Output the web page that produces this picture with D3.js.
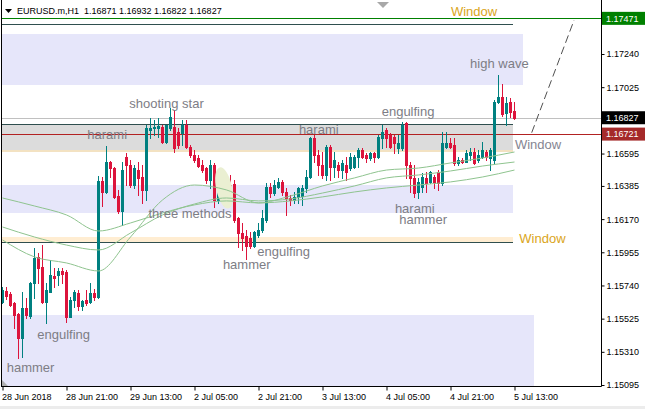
<!DOCTYPE html>
<html><head><meta charset="utf-8">
<script src="https://cdn.jsdelivr.net/npm/d3@7"></script>
<style>html,body{margin:0;padding:0;background:#fff;overflow:hidden}</style>
</head><body>
<svg id="c" width="645" height="409"></svg>
<script>
// ---------- DATA ----------
const opens = [1.15633,1.15704,1.15685,1.15626,1.15555,1.15400,1.15595,1.15542,1.15756,1.15925,
1.15860,1.15633,1.15698,1.15802,1.15808,1.15834,1.15827,1.15536,1.15646,1.15691,
1.15607,1.15646,1.15633,1.15691,1.15665,1.16417,1.16346,1.16540,1.16501,1.16320,
1.16223,1.16573,1.16521,1.16391,1.16488,1.16443,1.16359,1.16748,1.16761,1.16761,
1.16767,1.16670,1.16761,1.16767,1.16735,1.16728,1.16780,1.16637,1.16586,1.16566,
1.16521,1.16501,1.16424,1.16521,1.16294,1.16437,1.16424,1.16391,1.16398,1.16177,
1.16080,1.16061,1.16048,1.15996,1.16067,1.16100,1.16164,1.16378,1.16339,1.16378,
1.16411,1.16346,1.16307,1.16294,1.16314,1.16320,1.16372,1.16443,1.16696,1.16586,
1.16521,1.16456,1.16637,1.16508,1.16521,1.16488,1.16521,1.16501,1.16508,1.16573,
1.16618,1.16586,1.16566,1.16599,1.16573,1.16696,1.16748,1.16715,1.16702,1.16631,
1.16631,1.16793,1.16521,1.16437,1.16346,1.16378,1.16437,1.16411,1.16443,1.16475,
1.16404,1.16637,1.16663,1.16650,1.16534,1.16553,1.16540,1.16586,1.16605,1.16553,
1.16573,1.16605,1.16566,1.16553,1.16929,1.16961,1.16858,1.16929,1.16871];
const highs = [1.15730,1.15730,1.15698,1.15633,1.15562,1.15698,1.15659,1.15763,1.15983,1.15951,
1.16002,1.15756,1.15905,1.15853,1.15853,1.15853,1.15840,1.15665,1.15711,1.15711,
1.15646,1.15711,1.15756,1.15717,1.16450,1.16443,1.16644,1.16547,1.16508,1.16359,
1.16540,1.16599,1.16553,1.16521,1.16540,1.16521,1.16780,1.16825,1.16812,1.16825,
1.16780,1.16780,1.16890,1.16877,1.16761,1.16812,1.16812,1.16650,1.16618,1.16586,
1.16553,1.16508,1.16553,1.16534,1.16475,1.16475,1.16443,1.16456,1.16424,1.16184,
1.16145,1.16100,1.16087,1.16093,1.16145,1.16229,1.16404,1.16404,1.16424,1.16437,
1.16424,1.16372,1.16326,1.16346,1.16378,1.16391,1.16488,1.16702,1.16715,1.16618,
1.16605,1.16650,1.16650,1.16605,1.16540,1.16553,1.16573,1.16599,1.16586,1.16631,
1.16631,1.16599,1.16605,1.16605,1.16715,1.16780,1.16761,1.16728,1.16715,1.16715,
1.16799,1.16799,1.16540,1.16521,1.16437,1.16469,1.16475,1.16482,1.16456,1.16488,
1.16735,1.16735,1.16696,1.16696,1.16573,1.16566,1.16618,1.16631,1.16631,1.16618,
1.16670,1.16618,1.16631,1.16942,1.17104,1.17046,1.16961,1.16955,1.16932];
const lows = [1.15626,1.15652,1.15607,1.15465,1.15271,1.15277,1.15529,1.15529,1.15659,1.15756,
1.15626,1.15497,1.15698,1.15730,1.15743,1.15756,1.15503,1.15536,1.15601,1.15581,
1.15581,1.15614,1.15626,1.15646,1.15659,1.16255,1.16339,1.16443,1.16307,1.16210,
1.16132,1.16391,1.16378,1.16372,1.16326,1.16275,1.16294,1.16696,1.16715,1.16702,
1.16663,1.16663,1.16748,1.16605,1.16631,1.16650,1.16631,1.16573,1.16540,1.16508,
1.16475,1.16404,1.16372,1.16249,1.16275,1.16326,1.16359,1.16294,1.16151,1.15990,
1.15970,1.15912,1.15983,1.15990,1.16054,1.16087,1.16151,1.16314,1.16326,1.16372,
1.16326,1.16197,1.16262,1.16275,1.16275,1.16262,1.16346,1.16437,1.16540,1.16456,
1.16437,1.16424,1.16424,1.16443,1.16443,1.16437,1.16424,1.16488,1.16501,1.16508,
1.16566,1.16540,1.16553,1.16540,1.16566,1.16631,1.16637,1.16631,1.16599,1.16599,
1.16618,1.16437,1.16346,1.16314,1.16307,1.16346,1.16346,1.16404,1.16372,1.16359,
1.16391,1.16631,1.16631,1.16521,1.16521,1.16534,1.16540,1.16553,1.16527,1.16540,
1.16566,1.16553,1.16488,1.16534,1.16923,1.16838,1.16780,1.16832,1.16822];
const closes = [1.15711,1.15672,1.15614,1.15549,1.15400,1.15595,1.15549,1.15756,1.15918,1.15853,
1.15633,1.15711,1.15808,1.15789,1.15834,1.15815,1.15536,1.15646,1.15698,1.15607,
1.15640,1.15626,1.15691,1.15665,1.16417,1.16346,1.16540,1.16501,1.16314,1.16223,
1.16488,1.16521,1.16391,1.16501,1.16437,1.16359,1.16761,1.16761,1.16767,1.16774,
1.16670,1.16780,1.16832,1.16631,1.16650,1.16780,1.16637,1.16586,1.16553,1.16514,
1.16488,1.16424,1.16521,1.16294,1.16424,1.16391,1.16404,1.16326,1.16164,1.16080,
1.16048,1.15996,1.15996,1.16087,1.16100,1.16177,1.16378,1.16339,1.16391,1.16411,
1.16346,1.16307,1.16294,1.16314,1.16372,1.16372,1.16443,1.16696,1.16586,1.16521,
1.16456,1.16637,1.16508,1.16553,1.16488,1.16534,1.16475,1.16573,1.16573,1.16618,
1.16573,1.16566,1.16599,1.16573,1.16702,1.16735,1.16696,1.16637,1.16663,1.16663,
1.16780,1.16521,1.16437,1.16339,1.16411,1.16443,1.16404,1.16475,1.16411,1.16404,
1.16663,1.16663,1.16637,1.16534,1.16553,1.16540,1.16599,1.16605,1.16534,1.16586,
1.16618,1.16573,1.16618,1.16929,1.16961,1.16851,1.16923,1.16864,1.16827];

// moving averages, read at every 8th bar
const maBars = [0,8,16,24,32,40,48,56,64,72,80,88,96,104,112,120,128];
const maSlow = [1.16307,1.16255,1.16197,1.16093,1.16145,1.16210,1.16262,1.16288,1.16275,1.16288,1.16314,1.16346,1.16372,1.16391,1.16411,1.16443,1.16488];
const maMid  = [1.16119,1.16054,1.16002,1.15970,1.16080,1.16197,1.16268,1.16307,1.16288,1.16301,1.16339,1.16385,1.16437,1.16456,1.16482,1.16514,1.16540];
const maFast = [1.16035,1.15925,1.15886,1.15834,1.16054,1.16294,1.16391,1.16359,1.16275,1.16320,1.16385,1.16437,1.16488,1.16501,1.16534,1.16566,1.16605];

const yTickValues = [1.17240,1.17025,1.16595,1.16385,1.16170,1.15955,1.15740,1.15525,1.15310,1.15095];
const xTickBars = [0,16,32,48,64,80,96,112,128];
const xTickLabels = ["28 Jun 2018","28 Jun 21:00","29 Jun 13:00","2 Jul 05:00","2 Jul 21:00","3 Jul 13:00","4 Jul 05:00","4 Jul 21:00","5 Jul 13:00"];

// zones (price bands) and their end bar
const zoneHigh = [1.17370,1.16786,1.16391,1.16054,1.15549];
const zoneLow  = [1.17039,1.16618,1.16210,1.16022,1.15000];
const zoneEnd  = [130,127.6,127.6,127.6,132.9];
const windowLinePrices = [1.17434,1.16786,1.16022];
const creamLinePrice = 1.16618;
const levelPrices = [1.17471,1.16827,1.16721];
const levelLabels = ["1.17471","1.16827","1.16721"];
const trendBars = [132.3,142.9];
const trendPrices = [1.16730,1.17460];

const patternTexts = ["shooting star","harami","three methods","hammer","engulfing","harami","engulfing","harami","hammer","high wave","engulfing","hammer"];
const patternBars  = [31.7,21.2,36.5,55.1,63.7,74.1,94.8,98.1,99.2,116.9,8.7,1.05];
const patternPrices= [1.16893,1.16692,1.16177,1.15845,1.15931,1.16724,1.16838,1.16212,1.16136,1.17152,1.15391,1.15179];
const windowTexts = ["Window","Window","Window"];
const windowBars = [112.1,128.1,129.2];
const windowPrices = [1.17486,1.16623,1.16013];
const ellipseBar = 55.4, ellipsePrice = 1.16372;

const title = "EURUSD.m,H1  1.16871 1.16932 1.16822 1.16827";

// ---------- DRAW ----------
const svg = d3.select('#c');
const FONT = "'Liberation Sans', Arial, sans-serif";
const xS = d3.scaleLinear().domain([0,128]).range([2.5,514.5]);
const yS = d3.scaleLinear().domain([1.15095,1.17240]).range([385,54]);
const plotR = 601.5, plotB = 386.5;

svg.append('rect').attr('width',645).attr('height',409).attr('fill','#fff');
svg.append('defs').append('clipPath').attr('id','plot')
  .append('rect').attr('x',2).attr('y',0).attr('width',599).attr('height',386);
const g = svg.append('g').attr('clip-path','url(#plot)').attr('shape-rendering','crispEdges');

const zoneFills = ['#e6e6fa','#dcdcdc','#e6e6fa','#ffedd2','#e6e6fa'];
zoneHigh.forEach((h,k)=>{
  g.append('rect').attr('x',0).attr('y',yS(h))
    .attr('width',xS(zoneEnd[k])).attr('height',yS(zoneLow[k])-yS(h))
    .attr('fill',zoneFills[k]);
});
// ellipse highlight (three methods)
svg.append('ellipse').attr('cx',xS(ellipseBar)).attr('cy',yS(ellipsePrice))
  .attr('rx',8).attr('ry',21).attr('fill','#eaefd2')
  .attr('transform',`rotate(-12 ${xS(ellipseBar)} ${yS(ellipsePrice)})`);

g.append('line').attr('x1',0).attr('x2',xS(127.6))
  .attr('y1',Math.round(yS(creamLinePrice))+0.5).attr('y2',Math.round(yS(creamLinePrice))+0.5)
  .attr('stroke','#f3e2c2').attr('stroke-width',2);
windowLinePrices.forEach(p=>{
  const y = Math.round(yS(p))+0.5;
  g.append('line').attr('x1',0).attr('x2',xS(127.6)).attr('y1',y).attr('y2',y)
    .attr('stroke','#2f4f4f').attr('stroke-width',1);
});
const levelColors = ['#008000','#c0c0c0','#b22222'];
levelPrices.forEach((p,k)=>{
  const y = Math.round(yS(p))+0.5;
  g.append('line').attr('x1',0).attr('x2',plotR).attr('y1',y).attr('y2',y)
    .attr('stroke',levelColors[k]).attr('stroke-width',1);
});

// moving averages
const maLine = d3.line().x((d,i)=>xS(maBars[i])).y(d=>yS(d)).curve(d3.curveMonotoneX);
[maSlow,maMid,maFast].forEach(arr=>{
  svg.append('path').attr('clip-path','url(#plot)').attr('d',maLine(arr))
    .attr('fill','none').attr('stroke','#8fc48f').attr('stroke-width',1);
});

// candles
const cg = g.append('g');
opens.forEach((o,i)=>{
  const c = closes[i], up = c >= o;
  const col = up ? '#008080' : '#dc143c';
  const x = xS(i);
  cg.append('line').attr('x1',x).attr('x2',x)
    .attr('y1',Math.round(yS(highs[i]))).attr('y2',Math.round(yS(lows[i]))+1)
    .attr('stroke',col).attr('stroke-width',1);
  const yT = Math.round(yS(Math.max(o,c))), yB = Math.round(yS(Math.min(o,c)));
  cg.append('rect').attr('x',x-1.5).attr('y',yT).attr('width',3)
    .attr('height',Math.max(1,yB-yT+1)).attr('fill',col);
});

// trend line
svg.append('line').attr('x1',xS(trendBars[0])).attr('y1',yS(trendPrices[0]))
  .attr('x2',xS(trendBars[1])).attr('y2',yS(trendPrices[1]))
  .attr('stroke','#505050').attr('stroke-width',1).attr('stroke-dasharray','8,4');

// pattern labels
patternTexts.forEach((t,k)=>{
  svg.append('text').attr('x',xS(patternBars[k])).attr('y',yS(patternPrices[k]))
    .attr('font-family',FONT).attr('font-size',13).attr('fill','#7d7d85').text(t);
});
const windowColors = ['#daa520','#858592','#daa520'];
windowTexts.forEach((t,k)=>{
  svg.append('text').attr('x',xS(windowBars[k])).attr('y',yS(windowPrices[k]))
    .attr('font-family',FONT).attr('font-size',13).attr('fill',windowColors[k]).text(t);
});

// frame
svg.append('line').attr('x1',1.5).attr('x2',1.5).attr('y1',0).attr('y2',plotB).attr('stroke','#000');
svg.append('line').attr('x1',plotR).attr('x2',plotR).attr('y1',0).attr('y2',plotB).attr('stroke','#000');
svg.append('line').attr('x1',1).attr('x2',plotR).attr('y1',plotB).attr('y2',plotB).attr('stroke','#000');

// axes
const yAxis = d3.axisRight(yS).tickValues(yTickValues).tickFormat(d=>d.toFixed(5)).tickSize(3).tickPadding(2);
const ya = svg.append('g').attr('transform',`translate(${plotR},0)`).call(yAxis);
ya.select('.domain').remove();
ya.selectAll('text').attr('font-family',FONT).attr('font-size',9).attr('fill','#000');
ya.selectAll('line').attr('stroke','#000');

const xAxis = d3.axisBottom(xS).tickValues(xTickBars).tickFormat((d,i)=>xTickLabels[i]).tickSize(4).tickPadding(3);
const xa = svg.append('g').attr('transform',`translate(0,${plotB})`).call(xAxis);
xa.select('.domain').remove();
xa.selectAll('text').attr('font-family',FONT).attr('font-size',9).attr('fill','#000')
  .attr('text-anchor','start').attr('x',-1);
xa.selectAll('line').attr('stroke','#000');

// price labels on axis
const boxFills = ['#008000','#000000','#a52a2a'];
levelPrices.forEach((p,k)=>{
  const y = yS(p);
  svg.append('rect').attr('x',602).attr('y',y-6.5).attr('width',43).attr('height',13).attr('fill',boxFills[k]);
  svg.append('text').attr('x',606).attr('y',y+3.3).attr('font-family',FONT).attr('font-size',9)
    .attr('fill','#fff').text(levelLabels[k]);
});

// title
svg.append('path').attr('d','M5,9 L12,9 L8.5,13 Z').attr('fill','#000');
svg.append('text').attr('x',17).attr('y',14).attr('font-family',FONT).attr('font-size',9)
  .attr('fill','#000').style('white-space','pre').text(title);

// markers
svg.append('path').attr('d','M377,2 L389,2 L383,8 Z').attr('fill','#a8a8a8');
svg.append('path').attr('d','M2,380 L2,386 L8,386 Z').attr('fill','#b0b0b0');
svg.append('rect').attr('x',0).attr('y',406).attr('width',645).attr('height',3).attr('fill','#ececec');
</script>
</body></html>
